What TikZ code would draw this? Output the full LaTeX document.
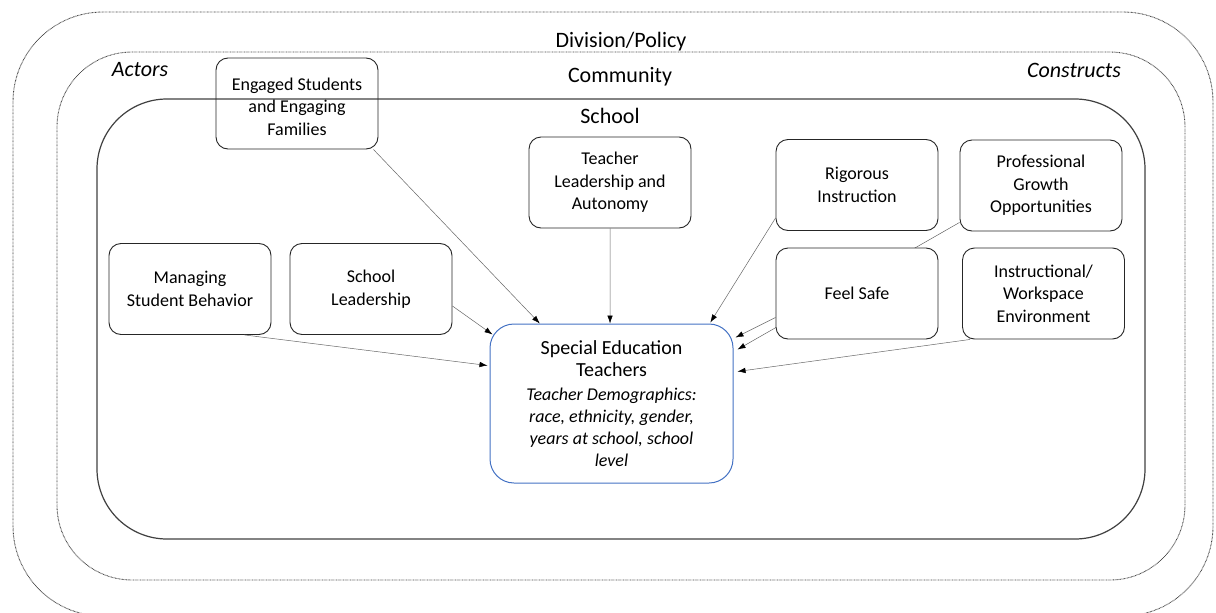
\documentclass[tikz,border=0pt]{standalone}
\usepackage{fontspec}
\setmainfont{Carlito}
\usetikzlibrary{calc,arrows.meta}
\definecolor{setblue}{HTML}{4472C4}
\begin{document}
\begin{tikzpicture}[x=1pt,y=-1pt,
  box/.style={draw=black!85, line width=0.9pt, rounded corners=12pt, fill=white,
    align=center, inner sep=0pt, minimum width=162pt, minimum height=91pt,
    font=\fontsize{18}{22.5}\selectfont},
  setbox/.style={draw=setblue, line width=1pt, rounded corners=24pt, fill=white,
    align=center, inner sep=0pt, minimum width=243pt, minimum height=159pt,
    font=\fontsize{18}{22}\selectfont},
  conn/.style={draw=black!60, line width=0.5pt, -{Latex[length=8pt,width=5.5pt,color=black]}},
  dotbound/.style={draw=black!75, line width=0.9pt, dash pattern=on 0.7pt off 0.7pt},
  schoolbound/.style={draw=black!75, line width=1.2pt},
  title/.style={font=\fontsize{22}{26}\selectfont, inner sep=0pt},
  side/.style={font=\fontsize{22}{26}\selectfont\itshape, inner sep=0pt}
]
\useasboundingbox (0,0) rectangle (1216,613);
\begin{scope}
\clip (0,0) rectangle (1216,613);
% boundaries
\draw[dotbound, rounded corners=90pt] (13,12) rectangle (1213,616);
\draw[dotbound, rounded corners=75pt] (57,52) rectangle (1185,580);
\draw[schoolbound, rounded corners=70pt] (97,99) rectangle (1145,539);
\end{scope}

% labels
\node[title] (division) at (621,42) {Division/Policy};
\node[title] (community) at (620,77) {Community};
\node[title] (school) at (610,116) {School};
\node[side] (actors) at (140,70) {Actors};
\node[side] (constructs) at (1074,70) {Constructs};

% nodes
\node[box, fill=none] (eng) at (297,103.5) {\rule{0pt}{19pt}Engaged Students\\and Engaging\\Families};
\node[box] (tl) at (610,182.5) {Teacher\\Leadership and\\Autonomy};
\node[box] (ri) at (857,185) {Rigorous\\Instruction};
\node[box] (pg) at (1041,185.5) {Professional\\Growth\\Opportunities};
\node[box] (msb) at (190,289) {Managing\\Student Behavior};
\node[box] (sl) at (371,289) {School\\Leadership};
\node[setbox] (set) at (611.5,403.5) {{\fontsize{20}{24}\selectfont Special Education}\\{\fontsize{20}{24}\selectfont Teachers}\\[2pt]\textit{Teacher Demographics:}\\\textit{race, ethnicity, gender,}\\\textit{years at school, school}\\\textit{level}};

% connectors
\draw[conn] ($(eng.south east)+(-5,0)$) -- ($(set.north west)!0.206!(set.north east)$);
\draw[conn] (tl.south) -- ($(set.north west)!0.494!(set.north east)$);
\draw[conn] ($(ri.south west)+(0,-13)$) -- ($(set.north west)!0.905!(set.north east)+(0,-1)$);
\draw[conn] ($(pg.south west)+(0,-9)$) -- ($(set.north east)+(4,26)$);
\draw[conn] ($(msb.south east)+(-27,0)$) -- ($(set.north west)+(-2,42)$);
\draw[conn] ($(sl.east)+(0,17)$) -- ($(set.north west)+(3,11)$);

% boxes drawn over the line from Professional Growth
\node[box] (fs) at (857,293.5) {Feel Safe};
\node[box] (ins) at (1043.5,293.5) {Instructional/\\Workspace\\Environment};

\draw[conn] ($(fs.south west)+(0,-22)$) -- ($(set.north east)+(2,14)$);
\draw[conn] ($(ins.south west)+(8,0)$) -- ($(set.north east)+(4,48)$);
\end{tikzpicture}
\end{document}
